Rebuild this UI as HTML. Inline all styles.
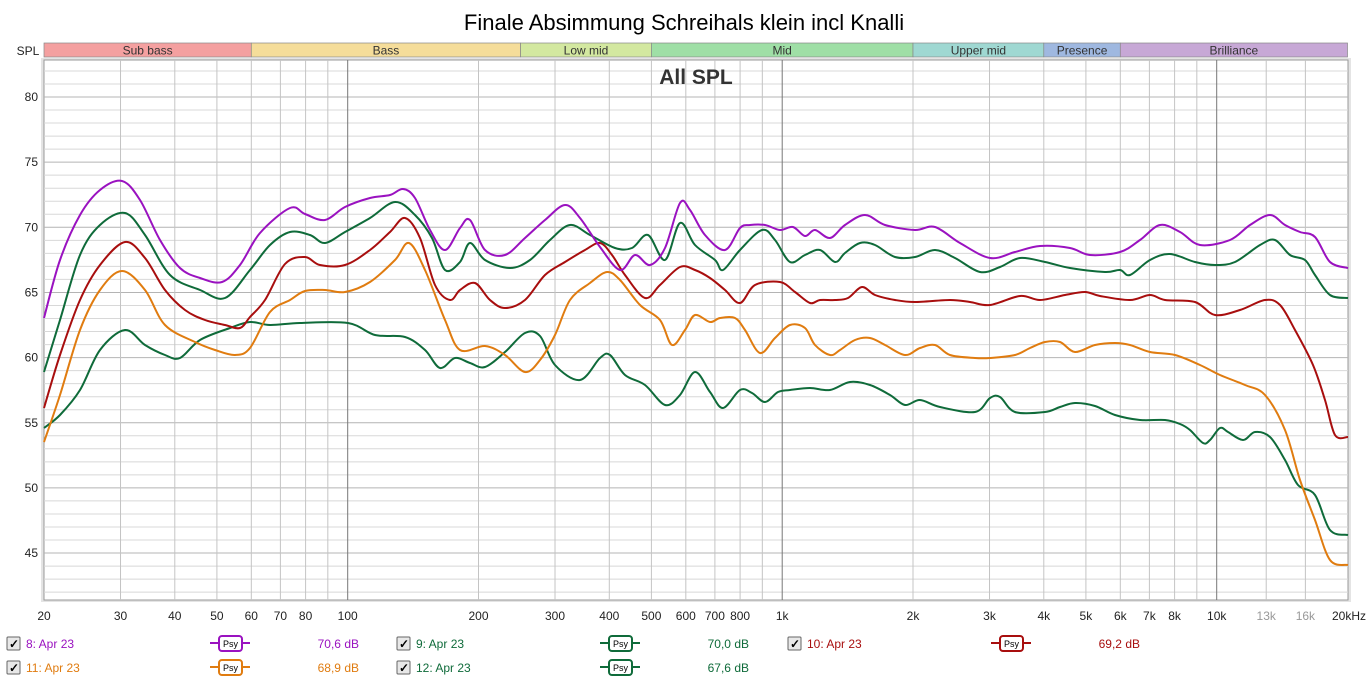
<!DOCTYPE html>
<html><head><meta charset="utf-8"><style>
body{margin:0;background:#fff;width:1369px;height:682px;overflow:hidden;font-family:"Liberation Sans",sans-serif}
</style></head><body>
<svg id="s" width="1369" height="682" xmlns="http://www.w3.org/2000/svg" font-family="Liberation Sans, sans-serif"></svg>
<script>
const s=document.getElementById('s');let h='';
const X=f=>44+(Math.log10(f)-Math.log10(20))*434.5;
const Y=d=>97+(80-d)*13.03;
h+='<text x="684" y="30" font-size="22" text-anchor="middle" fill="#000">Finale Absimmung Schreihals klein incl Knalli</text>';
h+='<text x="28" y="55" font-size="12" text-anchor="middle" fill="#222">SPL</text>';
const bands=[[20,60,'#f4a0a0','Sub bass'],[60,250,'#f5dd9a','Bass'],[250,500,'#d3e8a0','Low mid'],[500,2000,'#9fdfa6','Mid'],[2000,4000,'#9fd8d2','Upper mid'],[4000,6000,'#9fb8e0','Presence'],[6000,20000,'#c7a8d6','Brilliance']];
for(const b of bands){const a=X(b[0]),c=X(b[1]);h+=`<rect x="${a}" y="43" width="${c-a}" height="14" fill="${b[2]}" stroke="#888" stroke-width="0.7"/><text x="${(a+c)/2}" y="54.5" font-size="12" text-anchor="middle" fill="#333">${b[3]}</text>`;}
h+='<rect x="41" y="58" width="1310" height="544" fill="#e4e4e4"/><rect x="44" y="60" width="1304" height="540" fill="#fff" stroke="#999" stroke-width="1"/>';
for(let d=42;d<=82;d++){const y=Y(d);h+=`<line x1="44" x2="1348" y1="${y}" y2="${y}" stroke="${d%5==0?'#b4b4b4':'#d8d8d8'}" stroke-width="1"/>`;}
const fr=[];for(const m of [10,100,1000,10000])for(let k=1;k<=9;k++){const f=m*k;if(f>20&&f<20000)fr.push(f);}
fr.push(13000,16000);
for(const f of fr){const x=X(f);const maj=(f==100||f==1000||f==10000);h+=`<line x1="${x}" x2="${x}" y1="60" y2="600" stroke="${maj?'#777':'#c4c4c4'}" stroke-width="1"/>`;}
for(let d=45;d<=80;d+=5)h+=`<text x="38" y="${Y(d)+4}" font-size="12" text-anchor="end" fill="#222">${d}</text>`;
const tl=[[20,'20'],[30,'30'],[40,'40'],[50,'50'],[60,'60'],[70,'70'],[80,'80'],[100,'100'],[200,'200'],[300,'300'],[400,'400'],[500,'500'],[600,'600'],[700,'700'],[800,'800'],[1000,'1k'],[2000,'2k'],[3000,'3k'],[4000,'4k'],[5000,'5k'],[6000,'6k'],[7000,'7k'],[8000,'8k'],[10000,'10k'],[13000,'13k'],[16000,'16k']];
for(const t of tl){h+=`<text x="${X(t[0])}" y="620" font-size="12" text-anchor="middle" fill="${t[0]==13000||t[0]==16000?'#999':'#222'}">${t[1]}</text>`;}
h+='<text x="1366" y="620" font-size="12" text-anchor="end" fill="#222">20kHz</text>';
h+='<text x="696" y="84" font-size="21" font-weight="bold" text-anchor="middle" fill="#333">All SPL</text>';
function path(p){let d=`M${p[0][0]},${p[0][1]}`;for(let i=0;i<p.length-1;i++){const p0=p[i-1]||p[i],p1=p[i],p2=p[i+1],p3=p[i+2]||p2;d+=` C${p1[0]+(p2[0]-p0[0])/6},${p1[1]+(p2[1]-p0[1])/6} ${p2[0]-(p3[0]-p1[0])/6},${p2[1]-(p3[1]-p1[1])/6} ${p2[0]},${p2[1]}`;}return d;}
const P=a=>{const r=[];for(let i=0;i<a.length;i+=2)r.push([a[i],a[i+1]]);return r;};
const series=[
['#0f6b3a',P([44,428,60,415,80,390,100,350,125,330,145,345,165,355,180,358,200,340,230,328,250,322,270,325,300,323,348,323,375,335,405,337,425,350,440,368,455,358,470,363,485,367,505,352,525,333,540,336,555,365,580,380,600,358,610,355,625,375,645,385,665,405,680,395,695,372,710,392,723,408,740,390,752,393,765,402,778,392,790,390,810,388,830,390,850,382,870,385,890,395,905,405,920,400,940,407,975,412,990,398,1000,397,1015,412,1045,412,1060,407,1075,403,1095,406,1115,415,1140,420,1165,420,1180,424,1190,430,1203,443,1210,440,1220,428,1228,432,1243,440,1255,432,1270,437,1285,460,1298,485,1315,495,1330,530,1348,535])],
['#e07c10',P([44,442,60,395,80,330,100,290,122,271,145,290,165,325,195,342,215,350,235,355,250,348,270,312,290,300,305,291,325,290,345,292,370,282,395,260,409,243,425,270,445,320,460,350,485,346,505,355,525,372,540,360,555,335,570,300,590,283,607,272,620,280,640,305,660,320,672,345,685,330,695,315,710,322,720,318,735,318,745,330,760,353,775,338,790,325,805,328,815,345,830,355,840,350,855,340,870,338,885,345,905,355,920,348,935,345,950,355,975,358,990,358,1015,355,1030,348,1045,342,1060,342,1075,352,1095,345,1115,343,1130,345,1150,352,1175,355,1200,365,1220,375,1245,385,1265,395,1285,430,1300,480,1315,520,1330,560,1348,565])],
['#a80e0e',P([44,408,60,355,80,300,100,265,125,242,145,258,165,290,185,310,205,320,225,325,240,328,250,317,265,300,285,264,305,257,320,265,345,265,370,250,390,232,405,218,420,238,435,285,450,300,460,290,475,283,490,300,505,308,525,300,545,275,565,262,585,250,600,243,612,255,625,275,645,298,660,285,680,267,695,270,710,278,725,290,740,303,755,285,780,282,795,292,810,303,820,300,835,300,848,298,862,287,875,295,895,300,915,302,950,300,970,302,990,305,1020,296,1040,300,1065,295,1085,292,1100,296,1130,300,1150,295,1165,300,1195,302,1215,315,1240,310,1265,300,1280,305,1295,330,1313,365,1325,400,1335,435,1348,437])],
['#0f6b3a',P([44,372,60,320,80,255,100,225,125,213,145,235,170,275,200,290,225,298,250,270,270,245,290,232,310,235,325,243,345,232,370,218,395,202,415,215,432,238,445,270,460,262,470,243,485,260,510,268,530,260,550,240,570,225,590,235,615,248,632,248,648,235,665,260,680,223,695,245,715,260,723,270,740,250,762,230,775,240,790,262,805,255,820,250,835,262,845,253,860,243,875,245,895,257,915,257,935,250,955,258,980,272,1000,267,1020,258,1045,262,1070,268,1105,272,1120,270,1130,275,1150,260,1170,254,1195,262,1215,265,1235,262,1260,245,1275,240,1290,255,1305,260,1315,275,1330,295,1348,298])],
['#9a12c0',P([44,318,60,260,80,215,100,190,122,181,140,200,160,240,180,268,200,278,222,282,240,265,260,233,290,208,305,214,325,220,345,207,370,198,390,195,403,189,415,198,430,230,445,250,460,228,470,220,485,250,505,255,525,238,545,220,565,205,580,218,600,247,620,270,635,255,650,265,665,248,680,203,690,210,705,235,725,250,740,228,750,225,765,225,780,230,793,227,805,236,815,230,830,238,845,225,865,215,885,225,915,230,935,227,960,243,990,258,1015,252,1040,246,1070,248,1090,255,1120,252,1140,240,1160,225,1180,232,1200,245,1230,240,1250,225,1270,215,1285,225,1300,232,1315,237,1330,262,1348,268])]];
for(const sr of series)h+=`<path d="${path(sr[1])}" fill="none" stroke="${sr[0]}" stroke-width="2"/>`;
function leg(x,y,c,lbl,db){
h+=`<rect x="${x}" y="${y-6}" width="13" height="13" fill="#e8e8e8" stroke="#666" rx="1"/><text x="${x+2}" y="${y+5}" font-size="12" fill="#000" font-weight="bold">✓</text>`;
h+=`<text x="${x+19}" y="${y+5}" font-size="12" fill="${c}">${lbl}</text>`;
const px=x+212;h+=`<line x1="${px-9}" x2="${px+31}" y1="${y}" y2="${y}" stroke="${c}" stroke-width="2"/><rect x="${px}" y="${y-7}" width="23" height="15" rx="3" fill="#fff" stroke="${c}" stroke-width="2"/><text x="${px+11.5}" y="${y+4}" font-size="9" text-anchor="middle" fill="#000">Psy</text>`;
h+=`<text x="${x+352}" y="${y+5}" font-size="12" text-anchor="end" fill="${c}">${db}</text>`;}
leg(7,643,'#9a12c0','8: Apr 23','70,6 dB');leg(397,643,'#0f6b3a','9: Apr 23','70,0 dB');leg(788,643,'#a80e0e','10: Apr 23','69,2 dB');
leg(7,667,'#e07c10','11: Apr 23','68,9 dB');leg(397,667,'#0f6b3a','12: Apr 23','67,6 dB');
s.innerHTML=h;
</script>
</body></html>
